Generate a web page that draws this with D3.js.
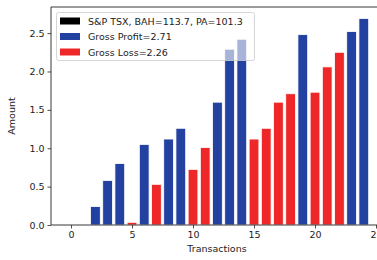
<!DOCTYPE html>
<html><head><meta charset="utf-8">
<script src="https://cdn.jsdelivr.net/npm/d3@7"></script>
<style>body{margin:0;background:#fff}svg{display:block}</style>
</head><body>
<svg id="c" width="377" height="260"></svg>
<script>
const transactions = [1,2,3,4,5,6,7,8,9,10,11,12,13,14,15,16,17,18,19,20,21,22,23,24];
const amounts = [0,0.24,0.58,0.80,0.035,1.05,0.53,1.12,1.26,0.725,1.01,1.60,2.29,2.42,1.12,1.26,1.60,1.71,2.48,1.73,2.06,2.25,2.52,2.69];
const kinds = ["none","profit","profit","profit","loss","profit","loss","profit","profit","loss","loss","profit","profit","profit","loss","loss","loss","loss","profit","loss","loss","loss","profit","profit"];
const xTicks = [0,5,10,15,20,25];
const yTicks = [0.0,0.5,1.0,1.5,2.0,2.5];
const legendLabels = ["S&P TSX, BAH=113.7, PA=101.3","Gross Profit=2.71","Gross Loss=2.26"];
const colors = {profit:"#2341a0", loss:"#ee2828", none:"#000000"};
const legendColors = ["#000000","#2341a0","#ee2828"];

const svg = d3.select("#c");
const L=51, T=7, B=225, R=383;
const x = d3.scaleLinear().domain([-1.64, 25.5]).range([L, L + 27.14*12.2]);
const y = d3.scaleLinear().domain([0, 2.84]).range([B, T]);
const font = "DejaVu Sans, sans-serif";

const g = svg.append("g");
g.selectAll("rect.bar").data(transactions.map((t,i)=>({t, v:amounts[i], k:kinds[i]})))
  .enter().append("rect").attr("class","bar")
  .attr("x", d=>x(d.t-0.4)).attr("width", d=>x(d.t+0.4)-x(d.t-0.4))
  .attr("y", d=>y(d.v)).attr("height", d=>y(0)-y(d.v))
  .attr("fill", d=>colors[d.k]).attr("stroke","#fff").attr("stroke-width",0.8);

// axes
const xa = svg.append("g").attr("transform",`translate(0,${B})`)
  .call(d3.axisBottom(x).tickValues(xTicks).tickFormat(d3.format("d")).tickSize(3.5).tickPadding(3));
const ya = svg.append("g").attr("transform",`translate(${L},0)`)
  .call(d3.axisLeft(y).tickValues(yTicks).tickFormat(d3.format(".1f")).tickSize(3.5).tickPadding(3));
[xa,ya].forEach(a=>{
  a.select(".domain").remove();
  a.selectAll("text").attr("font-family",font).attr("font-size","9.5px").attr("fill","#222");
  a.selectAll("line").attr("stroke","#222").attr("stroke-width",0.8);
});
// spines
svg.append("line").attr("x1",L).attr("x2",L).attr("y1",T).attr("y2",B).attr("stroke","#222").attr("stroke-width",0.9);
svg.append("line").attr("x1",L).attr("x2",R).attr("y1",B).attr("y2",B).attr("stroke","#222").attr("stroke-width",0.9);
svg.append("line").attr("x1",L).attr("x2",R).attr("y1",T).attr("y2",T).attr("stroke","#222").attr("stroke-width",0.9);

// labels
svg.append("text").attr("x",217).attr("y",252).attr("text-anchor","middle")
  .attr("font-family",font).attr("font-size","9.5px").attr("fill","#222").text("Transactions");
svg.append("text").attr("transform",`translate(15,${(T+B)/2}) rotate(-90)`).attr("text-anchor","middle")
  .attr("font-family",font).attr("font-size","9.5px").attr("fill","#222").text("Amount");

// legend
const lg = svg.append("g");
lg.append("rect").attr("x",56.5).attr("y",12.5).attr("width",198).attr("height",48).attr("rx",2)
  .attr("fill","#fff").attr("fill-opacity",0.6).attr("stroke","#ccc").attr("stroke-width",0.8);
legendLabels.forEach((lab,i)=>{
  const cy = 21 + i*15.5;
  lg.append("rect").attr("x",60).attr("y",cy-3.5).attr("width",20).attr("height",7).attr("fill",legendColors[i]);
  lg.append("text").attr("x",88).attr("y",cy+3.5).attr("font-family",font).attr("font-size","9.5px")
    .attr("fill","#222").text(lab);
});
</script>
</body></html>
